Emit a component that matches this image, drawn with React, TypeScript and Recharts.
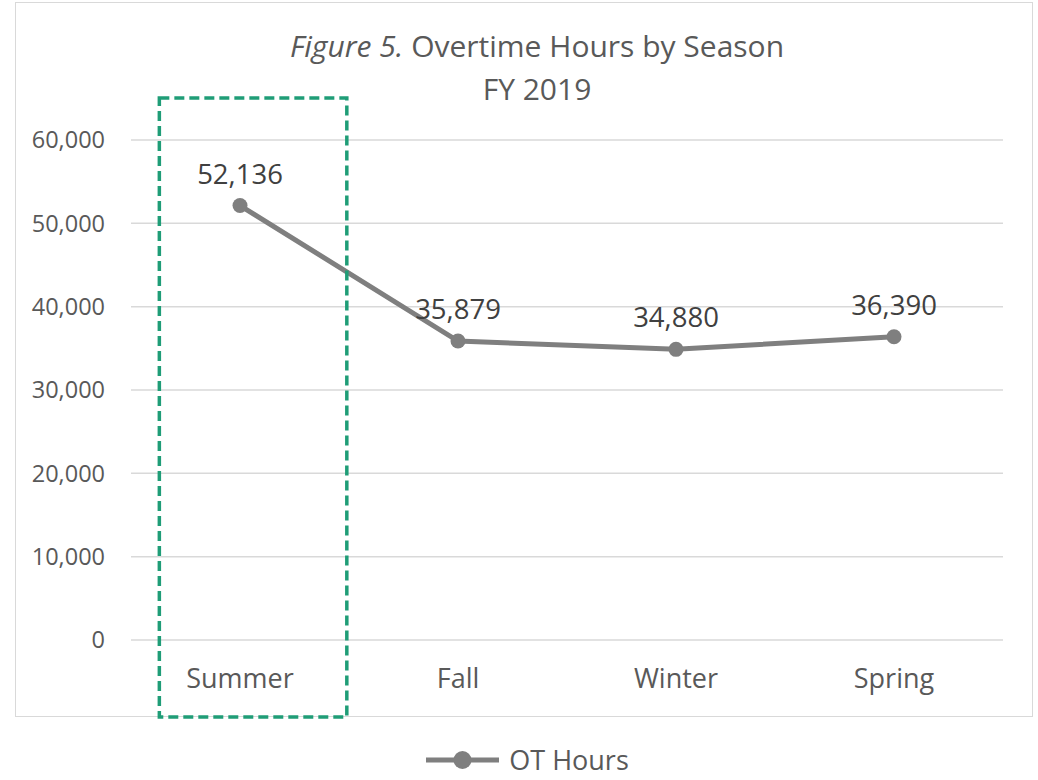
import React from "react";
import {
  LineChart, Line, XAxis, YAxis, CartesianGrid, LabelList, Legend,
} from "recharts";

const seasons = ["Summer", "Fall", "Winter", "Spring"];
const otHours = [52136, 35879, 34880, 36390];
const yTicks = [0, 10000, 20000, 30000, 40000, 50000, 60000];

const data = seasons.map((s, i) => ({ season: s, hours: otHours[i] }));

const W = 1038;
const H = 780;
const PLOT_LEFT = 131;
const PLOT_RIGHT = 1003;
const PLOT_TOP = 140;
const PLOT_BOTTOM = 640;
const BAND = (PLOT_RIGHT - PLOT_LEFT) / seasons.length;
const FONT = "'Open Sans', 'DejaVu Sans', sans-serif";
const GREY = "#7f7f7f";

const fmt = (v: number) => v.toLocaleString("en-US");

function LegendContent() {
  return (
    <div style={{ height: 60, display: "flex", justifyContent: "center", alignItems: "center", paddingTop: 20, paddingLeft: 52, boxSizing: "border-box" }}>
      <svg width={73} height={22} style={{ display: "block" }}>
        <line x1={0} y1={11} x2={73} y2={11} stroke={GREY} strokeWidth={5} />
        <circle cx={36.5} cy={11} r={9} fill={GREY} />
      </svg>
      <span style={{ marginLeft: 10, fontSize: 27, lineHeight: "34px", color: "#595959", fontFamily: FONT }}>OT Hours</span>
    </div>
  );
}

export default function App() {
  // highlight box around the Summer band
  const boxLeft = PLOT_LEFT + BAND * 0.13;
  const boxRight = PLOT_LEFT + BAND * 0.99;

  return (
    <div style={{ position: "absolute", left: 0, top: 0, width: W, height: H, background: "#fff", fontFamily: FONT }}>
      <div style={{ position: "absolute", left: 15, top: 2, width: 1033 - 15, height: 717 - 2, border: "1.5px solid #d9d9d9", boxSizing: "border-box" }} />
      <div style={{ position: "absolute", left: 537 - 350, top: 24, width: 700, textAlign: "center", fontSize: 30, lineHeight: "43px", color: "#595959" }}>
        <i>Figure 5.</i> Overtime Hours by Season<br />FY 2019
      </div>
      <div style={{ position: "absolute", left: 0, top: 0 }}>
        <LineChart
          width={W}
          height={H}
          data={data}
          margin={{ top: PLOT_TOP, right: W - PLOT_RIGHT, bottom: 0, left: 0 }}
        >
          <CartesianGrid vertical={false} stroke="#d9d9d9" strokeWidth={1.5} />
          <XAxis
            dataKey="season"
            axisLine={false}
            tickLine={false}
            padding={{ left: BAND / 2, right: BAND / 2 }}
            height={H - PLOT_BOTTOM - 60}
            tickMargin={23}
            tick={{ fill: "#595959", fontSize: 27, fontFamily: FONT }}
          />
          <YAxis
            domain={[0, 60000]}
            ticks={yTicks}
            width={PLOT_LEFT}
            axisLine={false}
            tickLine={false}
            tickMargin={20}
            tickFormatter={fmt}
            tick={{ fill: "#595959", fontSize: 23.5, fontFamily: FONT }}
          />
          <Legend verticalAlign="bottom" content={() => <LegendContent />} />
          <Line
            dataKey="hours"
            stroke={GREY}
            strokeWidth={5}
            dot={{ r: 7.5, fill: GREY, stroke: GREY, strokeWidth: 0 }}
            activeDot={false}
            isAnimationActive={false}
          >
            <LabelList
              dataKey="hours"
              position="top"
              offset={22}
              formatter={(v: any) => fmt(Number(v))}
              fill="#404040"
              fontSize={27.5}
              fontFamily={FONT}
            />
          </Line>
        </LineChart>
      </div>
      <svg style={{ position: "absolute", left: 0, top: 0, pointerEvents: "none" }} width={W} height={H}>
        <rect
          x={boxLeft}
          y={98}
          width={boxRight - boxLeft}
          height={717 - 98}
          fill="none"
          stroke="#1f9d77"
          strokeWidth={3.5}
          strokeDasharray="10 5"
        />
      </svg>
    </div>
  );
}
